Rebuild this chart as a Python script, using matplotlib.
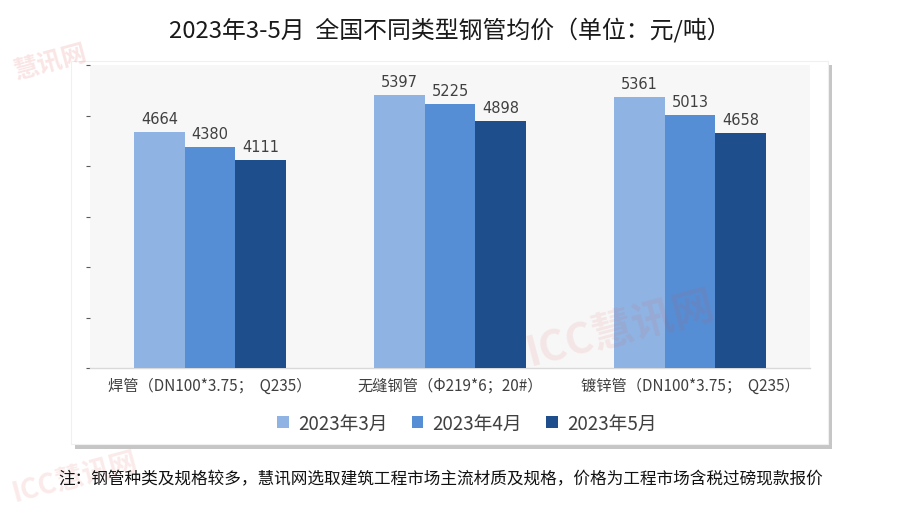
import matplotlib
matplotlib.use("Agg")
import matplotlib.pyplot as plt
from matplotlib.patches import Rectangle
import numpy as np

plt.rcParams['font.family'] = ['Noto Sans CJK SC', 'DejaVu Sans']

title = "2023年3-5月  全国不同类型钢管均价（单位：元/吨）"
categories = ["焊管（DN100*3.75；  Q235）", "无缝钢管（Φ219*6；20#）", "镀锌管（DN100*3.75；  Q235）"]
series_names = ["2023年3月", "2023年4月", "2023年5月"]
mar_vals = [4664, 5397, 5361]
apr_vals = [4380, 5225, 5013]
may_vals = [4111, 4898, 4658]
colors = ["#8FB4E3", "#558ED5", "#1F4E8C"]
note = "注：钢管种类及规格较多，慧讯网选取建筑工程市场主流材质及规格，价格为工程市场含税过磅现款报价"

fig = plt.figure(figsize=(9, 5.1), dpi=100)
fig.patch.set_facecolor("white")

W, H = 900, 510
def fx(px): return px / W
def fy(py): return 1 - py / H

# card shadow and card
shadow = Rectangle((fx(75), fy(450)), fx(757), (450 - 66) / H, transform=fig.transFigure,
                   facecolor="#b8b8b8", edgecolor="none", zorder=0, alpha=0.8)
fig.patches.append(shadow)
card = Rectangle((fx(71), fy(445)), fx(757), (445 - 62) / H, transform=fig.transFigure,
                 facecolor="white", edgecolor="#f0f0f0", linewidth=0.8, zorder=1)
fig.patches.append(card)

ax = fig.add_axes([fx(90), fy(369), fx(720), (369 - 66) / H])
ax.set_zorder(2)
ax.set_facecolor("#F7F7F7")

x = np.arange(len(categories))
w = 0.21
for i, (vals, c, name) in enumerate(zip([mar_vals, apr_vals, may_vals], colors, series_names)):
    bars = ax.bar(x + (i - 1) * w, vals, width=w, color=c, label=name, zorder=3)
    for b, v in zip(bars, vals):
        ax.text(b.get_x() + b.get_width() / 2, v + 120, f"{v}", ha="center", va="bottom",
                fontsize=10.5, color="#404040", family=['DejaVu Sans'])

ax.set_xlim(-0.5, 2.5)
ax.set_ylim(0, 6000)
ax.set_yticks(np.arange(0, 6001, 1000))
ax.set_yticklabels([])
ax.tick_params(axis="y", length=3, color="#595959", width=0.8, pad=2)
ax.set_xticks(x)
ax.set_xticklabels(categories, fontsize=11, color="#404040")
ax.tick_params(axis="x", length=0, pad=6)
for s in ["top", "right", "left"]:
    ax.spines[s].set_visible(False)
ax.spines["bottom"].set_color("#D9D9D9")
ax.spines["bottom"].set_linewidth(1)

leg = fig.legend(loc="center", bbox_to_anchor=(fx(467), fy(424)), ncol=3, frameon=False,
                 fontsize=13.5, handlelength=0.6, handleheight=0.6, columnspacing=1.3,
                 handletextpad=0.5, labelcolor="#404040")

fig.text(0.5, fy(30), title, ha="center", va="center", fontsize=17.2, color="#1a1a1a",
         fontweight="medium")
fig.text(fx(58), fy(480), note, ha="left", va="center", fontsize=12.0, color="#111111",
         fontweight="medium")

# faint watermarks
fig.text(fx(50), fy(62), "慧讯网", fontsize=18, color="#e05050", alpha=0.15, rotation=15,
         ha="center", va="center", fontweight="bold", zorder=5)
fig.text(fx(620), fy(330), "ICC慧讯网", fontsize=30, color="#e05050", alpha=0.10, rotation=15,
         ha="center", va="center", fontweight="bold", zorder=5)
fig.text(fx(75), fy(478), "ICC慧讯网", fontsize=20, color="#e05050", alpha=0.12, rotation=15,
         ha="center", va="center", fontweight="bold", zorder=0.5)

fig.savefig("out.png", dpi=100, facecolor="white")
